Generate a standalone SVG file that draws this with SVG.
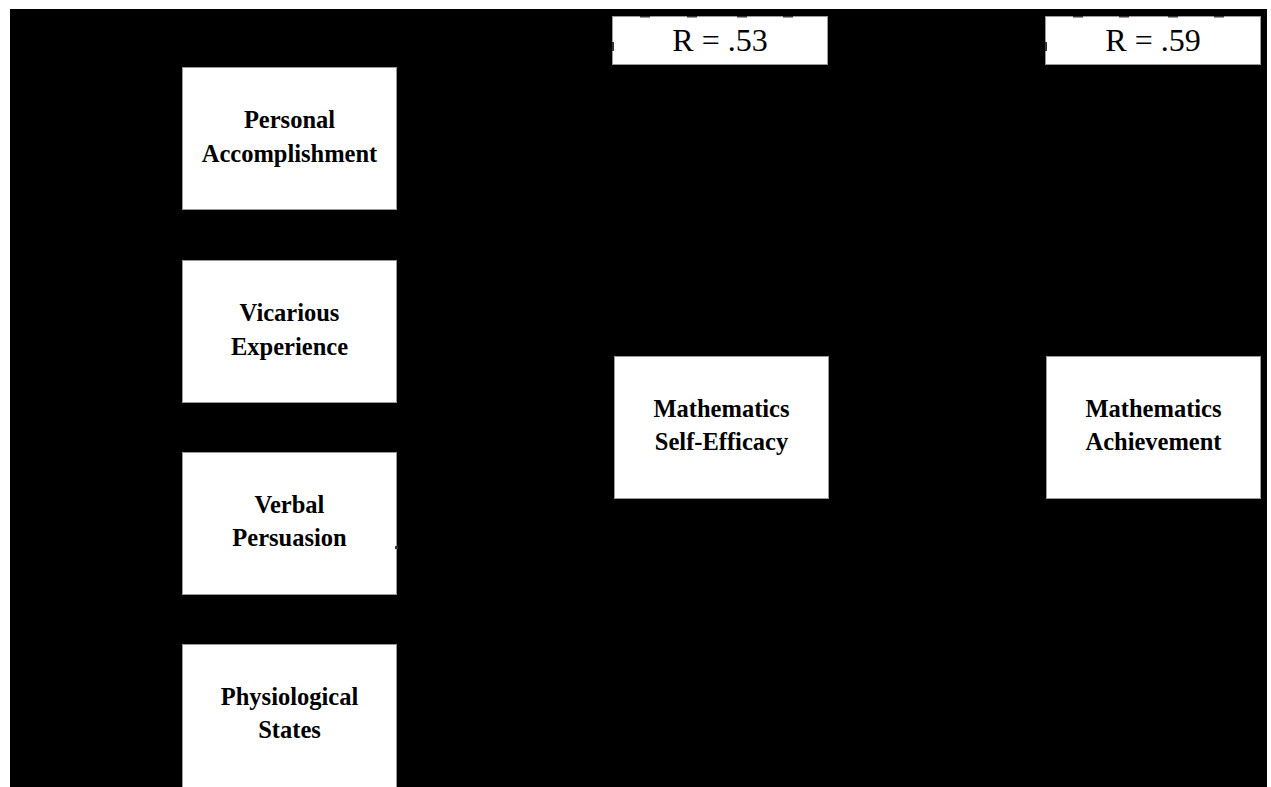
<svg xmlns="http://www.w3.org/2000/svg" width="1271" height="787" viewBox="0 0 1271 787">
<style>
.box{fill:#fff;stroke:#9a9a9a;stroke-width:1}
.lbl{font-family:"Liberation Serif","Times New Roman",serif;font-weight:bold;font-size:24.5px;fill:#000;text-anchor:middle}
.r{font-family:"Liberation Serif","Times New Roman",serif;font-size:32px;fill:#000;text-anchor:middle}
.mk{fill:#333}
</style>
<rect x="0" y="0" width="1271" height="787" fill="#fff"/>
<rect x="10" y="9" width="1257" height="778" fill="#000"/>
<g id="r1">
<rect class="box" x="612.5" y="16.5" width="215" height="48"/>
<text class="r" x="720" y="51">R = .53</text>
</g>
<g id="r2">
<rect class="box" x="1045.5" y="16.5" width="215" height="48"/>
<text class="r" x="1153" y="51">R = .59</text>
</g>
<g id="personal">
<rect class="box" x="182.5" y="67.5" width="214" height="142"/>
<text class="lbl" x="289.5" y="128">Personal</text>
<text class="lbl" x="289.5" y="162">Accomplishment</text>
</g>
<g id="vicarious">
<rect class="box" x="182.5" y="260.5" width="214" height="142"/>
<text class="lbl" x="289.5" y="321">Vicarious</text>
<text class="lbl" x="289.5" y="355">Experience</text>
</g>
<g id="verbal">
<rect class="box" x="182.5" y="452.5" width="214" height="142"/>
<text class="lbl" x="289.5" y="513">Verbal</text>
<text class="lbl" x="289.5" y="546">Persuasion</text>
</g>
<g id="physio">
<rect class="box" x="182.5" y="644.5" width="214" height="150"/>
<text class="lbl" x="289.5" y="705">Physiological</text>
<text class="lbl" x="289.5" y="738">States</text>
</g>
<g id="selfeff">
<rect class="box" x="614.5" y="356.5" width="214" height="142"/>
<text class="lbl" x="721.5" y="417">Mathematics</text>
<text class="lbl" x="721.5" y="450">Self-Efficacy</text>
</g>
<g id="achieve">
<rect class="box" x="1046.5" y="356.5" width="214" height="142"/>
<text class="lbl" x="1153.5" y="417">Mathematics</text>
<text class="lbl" x="1153.5" y="450">Achievement</text>
</g>
<g id="connectors">
<rect class="mk" x="640" y="16" width="10" height="1.5"/>
<rect class="mk" x="687" y="16" width="10" height="1.5"/>
<rect class="mk" x="737" y="16" width="10" height="1.5"/>
<rect class="mk" x="783" y="16" width="10" height="1.5"/>
<rect class="mk" x="612" y="42" width="2" height="9"/>
<rect class="mk" x="1073" y="16" width="10" height="1.5"/>
<rect class="mk" x="1119" y="16" width="10" height="1.5"/>
<rect class="mk" x="1168" y="16" width="10" height="1.5"/>
<rect class="mk" x="1214" y="16" width="10" height="1.5"/>
<rect class="mk" x="1045" y="42" width="2" height="9"/>
<rect class="mk" x="395" y="546" width="3" height="3"/>
</g>
</svg>
